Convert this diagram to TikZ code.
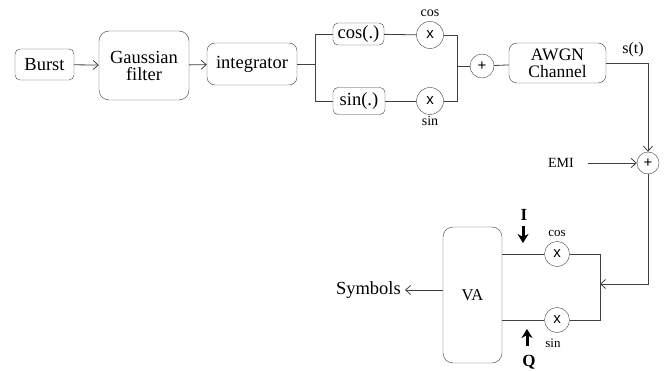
\documentclass[tikz,border=0pt]{standalone}
\usepackage{fontspec}
\setmainfont{Liberation Serif}
\newfontfamily\mixfont{Liberation Sans}
\usetikzlibrary{arrows.meta}

\tikzset{
  blk/.style={draw=black!75, rounded corners=#1, inner sep=0pt, align=center, font=\fontsize{18.5}{19}\selectfont},
  blk/.default=7pt,
  mult/.style={draw=black!75, circle, inner sep=0pt, minimum size=27pt, font=\mixfont\fontsize{15}{15}\selectfont},
  summ/.style={draw=black!75, circle, inner sep=0pt, minimum size=24pt, font=\mixfont\fontsize{15}{15}\selectfont},
  smalltxt/.style={inner sep=0pt, font=\fontsize{14}{14}\selectfont},
  wire/.style={draw=black!75, line width=0.8pt},
  boldarrow/.style={line width=3pt, -{Stealth[length=9pt,width=11pt]}}
}

\begin{document}
\begin{tikzpicture}[x=1pt, y=-1pt, >={Straight Barb[length=5pt,width=9pt]}]
  \useasboundingbox (0,0) rectangle (668,371);

  % nodes
  \node[blk=5pt, minimum width=59pt, minimum height=31pt] (burst) at (44.5,64.5) {Burst};
  \node[blk=10pt, minimum width=90pt, minimum height=69pt] (gauss) at (144,65.5) {Gaussian\\[-2pt]filter};
  \node[blk=8pt, minimum width=90pt, minimum height=42pt] (integ) at (252,64) {integrator};
  \node[blk=5pt, minimum width=51pt, minimum height=22pt] (cosb) at (358.5,34) {cos(.)};
  \node[blk=5pt, minimum width=52pt, minimum height=27pt] (sinb) at (359,101) {sin(.)};
  \node[mult] (mc) at (430,35) {x};
  \node[mult] (ms) at (430,101) {x};
  \node[smalltxt] (lc) at (430,13) {cos};
  \node[smalltxt] (ls) at (430,121) {sin};
  \node[summ] (plus) at (482,66) {+};
  \node[blk=8pt, minimum width=97pt, minimum height=40pt, font=\fontsize{17.5}{18}\selectfont] (awgn) at (557.5,63) {AWGN\\[-1pt]Channel};
  \node[inner sep=0pt, font=\fontsize{16}{16}\selectfont] (st) at (633,50) {s(t)};
  \node[summ, minimum size=22pt] (plus2) at (648,163) {+};
  \node[smalltxt] (emi) at (561,163) {EMI};
  \node[blk=10pt, minimum width=59pt, minimum height=136pt, font=\fontsize{16.5}{16}\selectfont] (va) at (472.5,295) {\raisebox{-7pt}{VA}};
  \node[mult, minimum size=25pt] (rc) at (557,254) {x};
  \node[mult, minimum size=25pt] (rs) at (557,320) {x};
  \node[smalltxt, font=\fontsize{13}{13}\selectfont] (lrc) at (557,233) {cos};
  \node[smalltxt, font=\fontsize{13}{13}\selectfont] (lrs) at (553,343) {sin};
  \node[inner sep=0pt, font=\bfseries\fontsize{17}{17}\selectfont] (li) at (524,215) {I};
  \node[inner sep=0pt, font=\bfseries\fontsize{17}{17}\selectfont] (lq) at (529,362) {Q};
  \node[inner ysep=0pt, inner xsep=4pt, anchor=east, font=\fontsize{18.5}{18}\selectfont] (sym) at (405,290) {Symbols};

  % helper points
  \coordinate (split) at (315,64);
  \coordinate (join) at (457,66);
  \coordinate (rjoin) at (600,284);
  \coordinate (ia) at (523,226);
  \coordinate (ib) at (523,243);
  \coordinate (qa) at (527,346);
  \coordinate (qb) at (527,329);

  % arrows
  \draw [wire, ->] (burst) -- (gauss);
  \draw [wire, ->] (gauss) -- (integ);
  \draw [wire] (integ) -- (split);
  \draw [wire] (split) |- (cosb);
  \draw [wire] (split) |- (sinb);
  \draw [wire] (cosb) -- (mc);
  \draw [wire] (sinb) -- (ms);
  \draw [wire] (mc) -| (join);
  \draw [wire] (ms) -| (join);
  \draw [wire] (join) -- (plus);
  \draw [wire] (plus) -- (awgn);
  \draw [wire, ->] (awgn.east) -| (plus2.north);
  \draw [wire, ->] (emi.east) ++(14,0) -- (plus2.west);
  \draw [wire, ->] (plus2.south) |- (rjoin);
  \draw [wire] (rc) -| (rjoin);
  \draw [wire] (rs) -| (rjoin);
  \draw [wire] (va.east |- rc) -- (rc);
  \draw [wire] (va.east |- rs) -- (rs);
  \draw [wire, ->] (va.west |- sym) -- (sym);
  \draw [boldarrow] (ia) -- (ib);
  \draw [boldarrow] (qa) -- (qb);

\end{tikzpicture}
\end{document}
